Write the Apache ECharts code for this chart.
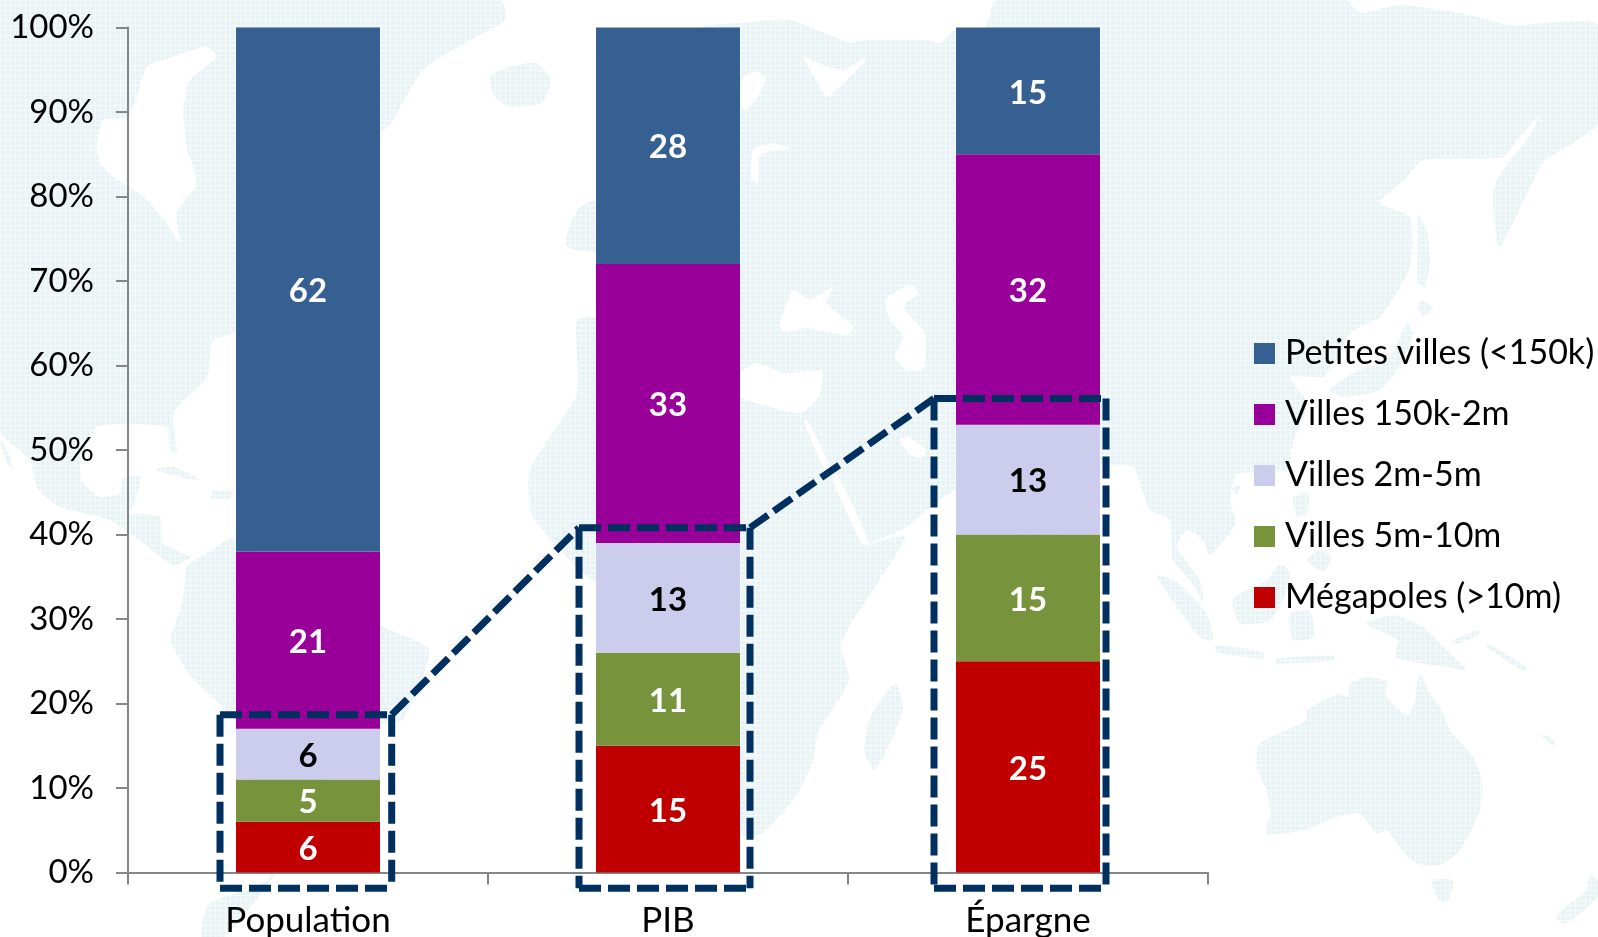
<!DOCTYPE html>
<html lang="fr">
<head>
<meta charset="utf-8">
<style>html,body{margin:0;padding:0;background:#fff}#c{width:1598px;height:937px}</style>
<script src="https://cdn.jsdelivr.net/npm/echarts@6/dist/echarts.min.js"></script>
</head>
<body>
<div id="c"></div>
<script>
// ---- chart data ----
const categories = ['Population', 'PIB', 'Épargne'];
const megapoles = [6, 15, 25];
const villes5m10m = [5, 11, 15];
const villes2m5m = [6, 13, 13];
const villes150k2m = [21, 33, 32];
const petitesVilles = [62, 28, 15];
const yTicks = [0, 100, 10];
// dashed call-out frames, in axis units (x: category widths, y: percent)
const frameLeft = [0.2556, 1.2528, 2.2389];
const frameRight = [0.7325, 1.7278, 2.7167];
const frameTop = [18.67, 40.8, 56.1];
const frameBottom = -1.87;

// ---- pale world map backdrop (decoration only) ----
const crop = (ox, oy, sx, sy) => pts => pts.map(p => [ox + p[0] / sx, oy + p[1] / sy]);
const c10 = crop(1090, 467, 3, 3), c9 = crop(1090, 0, 3, 3), c12 = crop(740, 0, 3, 3), c11 = crop(0, 300, 3, 3), c3 = crop(0, 0, 3, 3);
const land = [
  // Americas north
  [[0,0],[500,0],[505,20],[470,40],[423,70],[390,125],[380,133],[300,250],[233,333],[213,340],[207,377],[173,413],[177,453],[170,450],[167,427],[97,427],[80,467],[83,483],[100,497],[120,493],[123,478],[140,477],[133,507],[127,513],[160,517],[163,543],[190,557],[173,565],[143,543],[110,520],[60,507],[37,487],[30,460],[0,430]],
  [[0,440],[5,445],[13,468],[8,465]],
  // Iceland
  [[490,77],[510,67],[536,63],[551,80],[541,103],[510,107],[495,97]],
  // UK
  [[566,245],[570,225],[580,207],[600,200],[600,250],[575,250]],
  // South America
  [[187,567],[207,553],[233,538],[300,580],[383,627],[429,650],[403,720],[383,724],[306,800],[273,877],[224,937],[202,937],[209,904],[270,877],[250,760],[235,720],[189,674],[171,640],[183,600]],
  // Eurasia + Africa
  [[743,23],[790,20],[850,43],[863,40],[927,40],[940,43],[955,30],[985,28],[997,0],[1345,0],[1360,13],[1400,5],[1470,15],[1510,25],[1598,25],[1598,123],[1573,143],[1545,160],[1537,173],[1500,247],[1495,227],[1493,190],[1503,170],[1527,140],[1540,115],[1517,140],[1503,157],[1423,160],[1407,177],[1380,203],[1410,217],[1410,267],[1380,317],[1350,333],[1330,376],[1290,377],[1307,403],[1293,443],[1287,470],[1237,474],[1230,500],[1235,524],[1210,555],[1203,540],[1187,530],[1177,547],[1200,580],[1203,600],[1190,580],[1173,560],[1170,520],[1150,510],[1133,467],[1106,465],[1085,470],[1070,500],[1040,590],[1000,500],[956,490],[933,505],[905,528],[866,545],[905,537],[849,627],[841,647],[849,680],[818,733],[813,760],[798,793],[760,835],[730,830],[700,650],[680,590],[597,583],[533,517],[530,470],[577,393],[577,320],[600,317],[660,300],[700,30]],
  // Japan, Sakhalin
  [[1407,323],[1413,333],[1403,360],[1380,390],[1343,397],[1330,390],[1353,373],[1390,357]],
  [[1418,213],[1427,233],[1430,263],[1425,287],[1418,283],[1418,240]],
  [[1420,300],[1433,307],[1423,317],[1418,307]],
  // Madagascar
  [[895,684],[903,710],[875,770],[864,750],[872,714]],
  // Caribbean
  c11([[465,510],[520,500],[600,540],[560,535]]),
  c11([[640,570],[700,575],[690,595],[635,595]]),
  // South-East Asia
  c10([[200,325],[260,345],[350,440],[370,520],[330,510],[240,390]]),
  c10([[375,535],[520,555],[520,575],[380,555]]),
  c10([[560,575],[730,565],[730,580],[560,590]]),
  c10([[430,395],[530,340],[570,290],[600,320],[580,400],[540,460],[450,470]]),
  c10([[600,440],[660,430],[670,510],[610,520]]),
  c10([[610,90],[655,80],[650,140],[620,150]]),
  c10([[650,280],[690,250],[725,270],[700,315]]),
  c10([[830,470],[910,445],[1000,480],[1060,540],[1130,610],[1070,600],[1000,590],[915,570],[925,520]]),
  c10([[1090,520],[1165,490],[1165,505],[1095,532]]),
  c10([[1195,530],[1310,600],[1305,615],[1190,540]]),
  c10([[425,65],[450,55],[440,85]]),
  // Australia, Tasmania, New Zealand
  c10([[500,900],[510,830],[650,760],[650,730],[745,680],[775,690],[780,650],[830,630],[890,645],[890,690],[950,745],[970,720],[990,620],[1020,680],[1050,720],[1080,790],[1150,870],[1175,940],[1170,1030],[1110,1150],[1050,1195],[970,1185],[900,1100],[890,1090],[860,1100],[810,1040],[740,1050],[640,1090],[530,1100],[540,1040],[530,970]]),
  c10([[1025,1240],[1090,1240],[1075,1300],[1050,1305]]),
  c10([[1400,1350],[1440,1310],[1490,1270],[1500,1225],[1522,1240],[1522,1290],[1470,1340],[1420,1370]]),
  c10([[1360,800],[1395,825],[1390,835],[1358,810]])
];
const seas = [
  // Hudson Bay and channels
  c3([[290,440],[310,360],[385,350],[420,260],[440,200],[520,170],[620,140],[650,170],[570,240],[550,330],[560,440],[590,550],[530,640],[540,730],[500,670],[430,590],[340,530],[300,490]]),
  // Baltic, Arctic inlets
  c12([[10,230],[50,215],[75,235],[60,280],[20,330],[5,320]]),
  c12([[40,450],[100,430],[150,445],[60,465],[55,550],[35,540]]),
  c12([[190,170],[260,200],[310,210],[380,170],[370,190],[300,260],[260,290],[235,250]]),
  // Black Sea, Caspian, Mediterranean, Persian Gulf
  c12([[120,970],[160,870],[210,900],[280,860],[260,910],[340,980],[320,1005],[200,985],[130,995]]),
  c12([[435,900],[510,855],[535,880],[490,920],[555,1000],[550,1105],[500,1110],[465,1070],[490,1010],[450,960]]),
  c12([[-10,1130],[50,1090],[130,1120],[245,1115],[235,1190],[180,1240],[70,1215],[0,1190]]),
  c12([[480,1320],[500,1310],[560,1350],[540,1375],[505,1360]]),
  // Red Sea
  c12([[190,1260],[205,1265],[275,1410],[255,1410]]),
  crop(798,467,1.96,3)([[65,25],[78,25],[140,230],[125,230]]),
  // Sea between Korea and Japan
  c9([[770,1040],[850,1010],[760,1130],[700,1140]])
];

function makeTile() {
  const c = document.createElement('canvas');
  c.width = c.height = 5;
  const g = c.getContext('2d');
  g.fillStyle = '#e9f3f6'; g.fillRect(0, 0, 5, 5);
  g.fillStyle = '#f5fafb'; g.fillRect(0, 0, 5, 1); g.fillRect(0, 0, 1, 5);
  return c;
}
const tile = makeTile();
const backdrop = [];
land.forEach(points => backdrop.push({
  type: 'polygon', silent: true, z: -20, shape: { points, smooth: 0.2 }, style: { fill: { image: tile, repeat: 'repeat' } }
}));
seas.forEach(points => backdrop.push({
  type: 'polygon', silent: true, z: -19, shape: { points, smooth: 0.2 }, style: { fill: '#ffffff' }
}));

// ---- call-out segments, built from the frame lists ----
const segments = [];
frameLeft.forEach((l, i) => {
  const r = frameRight[i], t = frameTop[i], b = frameBottom;
  segments.push([l, t, r, t], [l, t, l, b], [l, b, r, b], [r, t, r, b]);
  if (i < frameLeft.length - 1) segments.push([r, t, frameLeft[i + 1], frameTop[i + 1]]);
});

const FONT = 'Lato';
const colors = { red: '#c00000', green: '#77933c', lilac: '#ccccec', purple: '#990099', blue: '#376092' };
const barSeries = (name, data, color, labelColor) => ({
  name, type: 'bar', stack: 'total', data, barWidth: '40%', z: 2,
  itemStyle: { color },
  label: { show: true, position: 'inside', offset: [0, 2], color: labelColor, fontFamily: FONT, fontSize: 33, fontWeight: 'bold' }
});

const chart = echarts.init(document.getElementById('c'), null, { renderer: 'canvas' });
chart.setOption({
  animation: false,
  backgroundColor: '#ffffff',
  graphic: backdrop,
  grid: { left: 128, right: 390, top: 27.5, bottom: 64.5, containLabel: false, outerBoundsMode: 'none' },
  legend: {
    orient: 'vertical', left: 1254, top: 333.5, padding: 0, itemWidth: 21, itemHeight: 21, itemGap: 21,
    icon: 'rect',
    data: ['Petites villes (<150k)', 'Villes 150k-2m', 'Villes 2m-5m', 'Villes 5m-10m', 'Mégapoles (>10m)'],
    textStyle: { color: '#000', fontFamily: FONT, fontSize: 34, padding: [0, 0, 0, 5], height: 40, lineHeight: 40 }
  },
  xAxis: [{
    type: 'category', data: categories,
    axisLine: { lineStyle: { color: '#868686', width: 2 } },
    axisTick: { show: true, length: 12, alignWithLabel: false, lineStyle: { color: '#868686', width: 2 } },
    axisLabel: { color: '#000', fontFamily: FONT, fontSize: 35, margin: 31 }
  }, {
    type: 'value', min: 0, max: 3, show: false
  }],
  yAxis: {
    type: 'value', min: yTicks[0], max: yTicks[1], interval: yTicks[2],
    splitLine: { show: false },
    axisLine: { show: true, lineStyle: { color: '#868686', width: 2 } },
    axisTick: { show: true, length: 12, lineStyle: { color: '#868686', width: 2 } },
    axisLabel: { color: '#000', fontFamily: FONT, fontSize: 33, margin: 34, padding: [2, 0, 0, 0], formatter: '{value}%' }
  },
  series: [
    barSeries('Mégapoles (>10m)', megapoles, colors.red, '#fff'),
    barSeries('Villes 5m-10m', villes5m10m, colors.green, '#fff'),
    barSeries('Villes 2m-5m', villes2m5m, colors.lilac, '#000'),
    barSeries('Villes 150k-2m', villes150k2m, colors.purple, '#fff'),
    barSeries('Petites villes (<150k)', petitesVilles, colors.blue, '#fff'),
    {
      type: 'custom', xAxisIndex: 1, yAxisIndex: 0, z: 5, silent: true, clip: false,
      encode: { x: [0, 2], y: [1, 3] },
      data: segments,
      renderItem: (params, api) => {
        const a = api.coord([api.value(0), api.value(1)]);
        const b = api.coord([api.value(2), api.value(3)]);
        return {
          type: 'line',
          shape: { x1: a[0], y1: a[1], x2: b[0], y2: b[1] },
          style: { stroke: '#003060', lineWidth: 7, lineDash: [22, 7], fill: null }
        };
      }
    }
  ]
});
</script>
</body>
</html>
